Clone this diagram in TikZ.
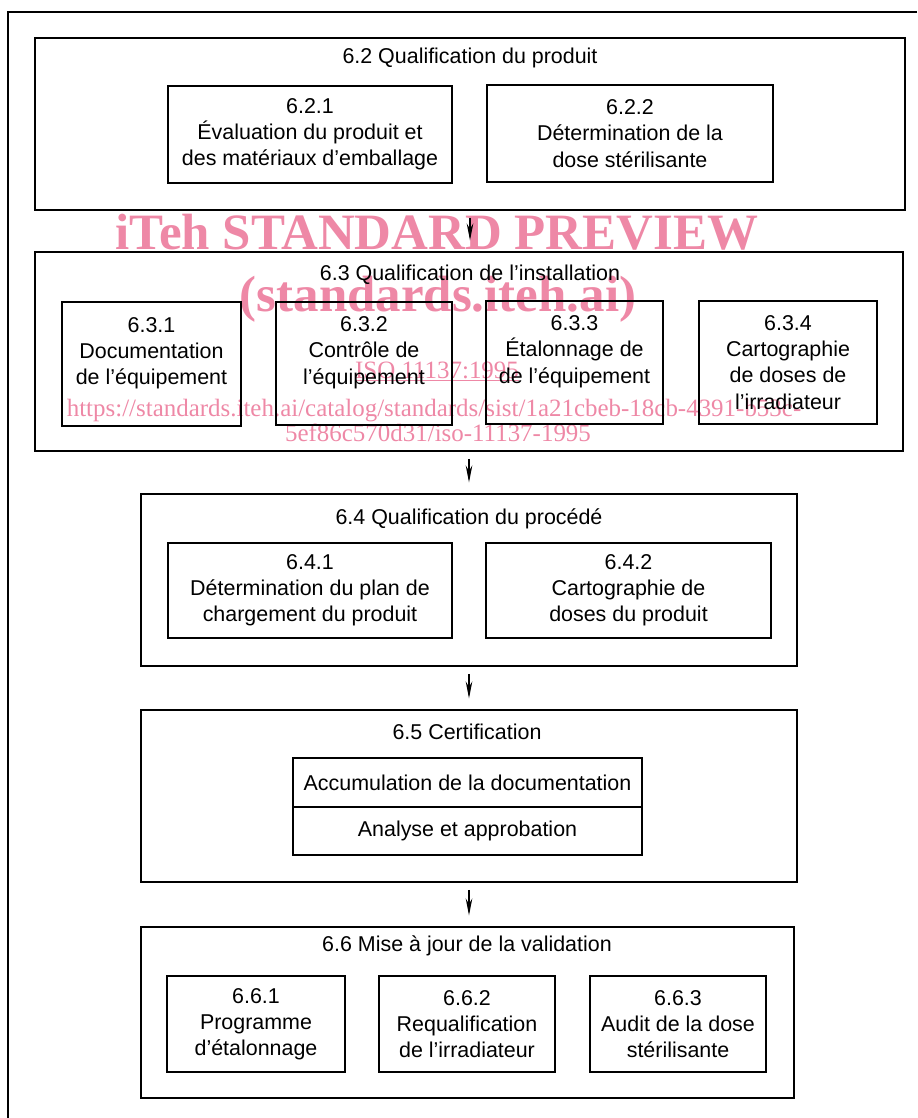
\documentclass[tikz,border=0pt]{standalone}
\usepackage{fontspec}
\setmainfont{Liberation Sans}
\newfontfamily\wmfont{Liberation Serif}
\usetikzlibrary{arrows.meta,positioning}
\definecolor{wmpink}{RGB}{238,136,166}
\tikzset{
>={Stealth[length=3.4mm,width=1.3mm]},
  bigbox/.style={
    rectangle,
    draw=black, line width=1.1pt,
    minimum width=13.12cm,
    minimum height=3.44cm},
  subbox/.style={
    rectangle,
    draw=black, line width=1.1pt,
    align=center,
    inner sep=0pt,
    minimum height=1.94cm},
  flow/.style={draw, line width=1pt, ->, shorten <=4pt, shorten >=6pt},
  watermark/.style={text=wmpink, anchor=base,
    font=\wmfont\fontsize{14.2}{17}\selectfont},
  bigmark/.style={watermark, font=\wmfont\bfseries\fontsize{29}{34}\selectfont},
}

\begin{document}
\begin{tikzpicture}[
    x=0.02cm, y=-0.02cm,
    every node/.style={font=\fontsize{12.2}{14.9}\selectfont},
    heading/.style={anchor=center}
    ]
    \useasboundingbox (0,0) rectangle (917,1118);

    %watermark
    \node[bigmark] (wm1) at (437,250) {iTeh STANDARD PREVIEW};
    \node[bigmark] (wm2) at (438,312) {(standards.iteh.ai)};
    \node[watermark] (wm3) at (437,378) {\underline{ISO 11137:1995}};
    \node[watermark] (wm4) at (434,416)
    {https://standards.iteh.ai/catalog/standards/sist/1a21cbeb-18cb-4391-b53c-};
    \node[watermark] (wm5) at (438,441) {5ef86c570d31/iso-11137-1995};

    %frame
    \draw[line width=1.1pt] (917,12) -- (8,12) -- (8,1118);

    %6.2
    \node[bigbox, minimum width=17.4cm] (q62) at (470,124) {};
    \node[heading] (t62) at (470,58) {6.2 Qualification du produit};
    \node[subbox, minimum width=5.68cm] (b621) at (310,134.5)
    {6.2.1\\Évaluation du produit et\\des matériaux d’emballage};
    \node[subbox, minimum width=5.72cm] (b622) at (630,133.5)
    {6.2.2\\Détermination de la\\dose stérilisante};

    %6.3
    \node[bigbox, minimum width=17.36cm, minimum height=3.98cm] (q63) at (469,351.5) {};
    \node[heading] (t63) at (470,275) {6.3 Qualification de l’installation};
    \node[subbox, minimum width=3.58cm, minimum height=2.48cm] (b631) at (151.5,364)
    {6.3.1\\Documentation\\de l’équipement\\\mbox{}};
    \node[subbox, minimum width=3.52cm, minimum height=2.46cm] (b632) at (364,363.5)
    {6.3.2\\Contrôle de\\l’équipement\\\mbox{}};
    \node[subbox, minimum width=3.54cm, minimum height=2.46cm] (b633) at (574.5,362.5)
    {6.3.3\\Étalonnage de\\de l’équipement\\\mbox{}};
    \node[subbox, minimum width=3.56cm, minimum height=2.46cm] (b634) at (788,362.5)
    {6.3.4\\Cartographie\\de doses de\\l’irradiateur};

    %6.4
    \node[bigbox] (q64) at (469,580) {};
    \node[heading] (t64) at (469,519) {6.4 Qualification du procédé};
    \node[subbox, minimum width=5.68cm, minimum height=1.9cm] (b641) at (310,590.5)
    {6.4.1\\Détermination du plan de\\chargement du produit};
    \node[subbox, minimum width=5.7cm, minimum height=1.9cm] (b642) at (628.5,590.5)
    {6.4.2\\Cartographie de\\doses du produit};

    %6.5
    \node[bigbox] (q65) at (469,796) {};
    \node[heading] (t65) at (467,732) {6.5 Certification};
    \node[subbox, minimum width=6.98cm, minimum height=0.98cm] (acc) at (467.5,782.5)
    {Accumulation de la documentation};
    \node[subbox, minimum width=6.98cm, minimum height=0.96cm, below=-1.1pt of acc] (ana)
    {Analyse et approbation};

    %6.6
    \node[bigbox, minimum width=13.06cm, minimum height=3.42cm] (q66) at (467.5,1012.5) {};
    \node[heading] (t66) at (467,946) {6.6 Mise à jour de la validation};
    \node[subbox, minimum width=3.56cm, minimum height=1.92cm] (b661) at (256,1024)
    {6.6.1\\Programme\\d’étalonnage};
    \node[subbox, minimum width=3.52cm, minimum height=1.92cm] (b662) at (467,1024)
    {6.6.2\\Requalification\\de l’irradiateur};
    \node[subbox, minimum width=3.52cm, minimum height=1.92cm] (b663) at (678,1024)
    {6.6.3\\Audit de la dose\\stérilisante};

    %arrows
    \draw[flow] (q62.south) -- (q62.south |- q63.north);
    \draw[flow] (q63.south) -- (q63.south |- q64.north);
    \draw[flow] (q64.south) -- (q65.north);
    \draw[flow] (q65.south) -- (q65.south |- q66.north);

\end{tikzpicture}
\end{document}
